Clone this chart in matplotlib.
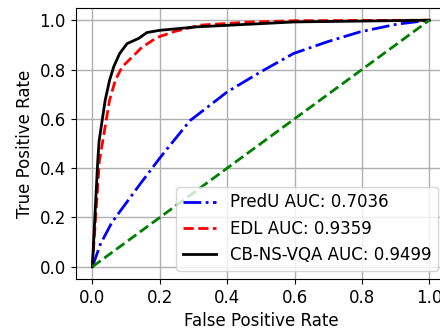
import matplotlib
matplotlib.use("Agg")
import matplotlib.pyplot as plt

fpr_predu = [0.0, 0.024, 0.058, 0.142, 0.194, 0.217, 0.29, 0.40, 0.499, 0.597, 0.696, 0.795, 0.904, 1.0]
tpr_predu = [0.0, 0.092, 0.18, 0.336, 0.43, 0.47, 0.593, 0.709, 0.79, 0.865, 0.912, 0.953, 0.984, 1.0]

fpr_edl = [0.0, 0.021, 0.026, 0.051, 0.068, 0.088, 0.108, 0.147, 0.192, 0.241, 0.32, 0.46, 0.6, 1.0]
tpr_edl = [0.0, 0.43, 0.47, 0.675, 0.756, 0.81, 0.837, 0.89, 0.93, 0.953, 0.98, 0.992, 0.998, 1.0]

fpr_cb = [0.0, 0.016, 0.02, 0.038, 0.051, 0.063, 0.081, 0.103, 0.137, 0.162, 0.2, 0.31, 0.6, 1.0]
tpr_cb = [0.0, 0.43, 0.51, 0.675, 0.756, 0.81, 0.865, 0.905, 0.926, 0.95, 0.959, 0.973, 0.993, 1.0]

labels = ["PredU AUC: 0.7036", "EDL AUC: 0.9359", "CB-NS-VQA AUC: 0.9499"]

plt.rcParams["font.size"] = 12

fig = plt.figure(figsize=(4.4, 3.28), dpi=100)
ax = fig.add_axes([0.1716, 0.149, 0.8425, 0.827])
ax.plot(fpr_predu, tpr_predu, color="blue", linestyle="-.", linewidth=2, label=labels[0])
ax.plot(fpr_edl, tpr_edl, color="red", linestyle="--", linewidth=2, label=labels[1])
ax.plot(fpr_cb, tpr_cb, color="black", linestyle="-", linewidth=2, label=labels[2])
ax.plot([0, 1], [0, 1], color="green", linestyle="--", linewidth=2)
ax.set_xlim(-0.05, 1.05)
ax.set_ylim(-0.05, 1.05)
ax.set_xticks([0, 0.2, 0.4, 0.6, 0.8, 1.0])
ax.set_yticks([0, 0.2, 0.4, 0.6, 0.8, 1.0])
ax.grid(True, color="#b0b0b0", linewidth=1)
ax.set_xlabel("False Positive Rate")
ax.set_ylabel("True Positive Rate")
ax.legend(loc="lower right")
fig.savefig("out.png", dpi=100)
